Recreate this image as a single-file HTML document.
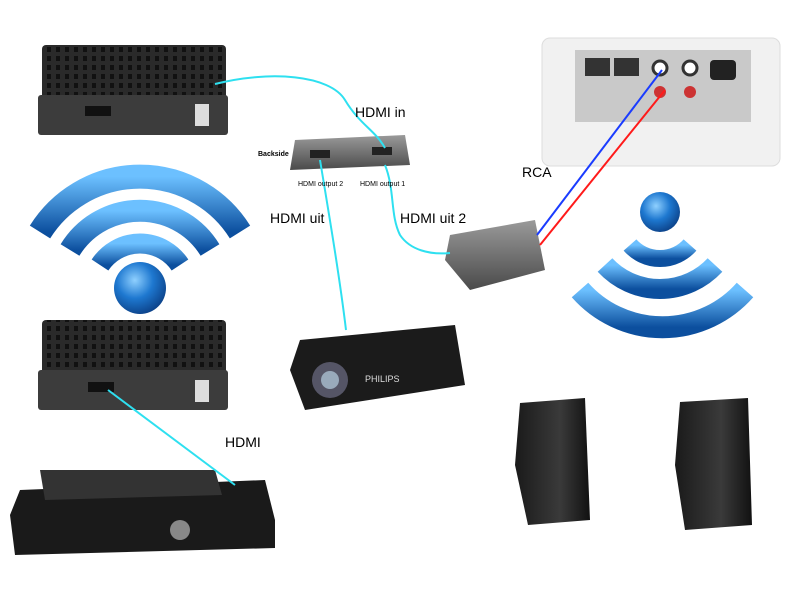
<!DOCTYPE html>
<html><head><meta charset="utf-8"><style>
html,body{margin:0;padding:0;background:#fff;width:800px;height:600px;overflow:hidden}
svg{display:block}
text{font-family:"Liberation Sans",sans-serif}
</style></head><body>
<svg width="800" height="600" viewBox="0 0 800 600" xmlns="http://www.w3.org/2000/svg">
<defs>
<pattern id="grid" width="9" height="9" patternUnits="userSpaceOnUse"><rect width="9" height="9" fill="#2a2a2a"/><rect x="2" y="2" width="4" height="5" fill="#111"/></pattern>
<radialGradient id="ball" cx="0.4" cy="0.35" r="0.7"><stop offset="0" stop-color="#8fd0ff"/><stop offset="0.5" stop-color="#1e78d0"/><stop offset="1" stop-color="#0b3f85"/></radialGradient>
<linearGradient id="arc" x1="0" y1="0" x2="0" y2="1"><stop offset="0" stop-color="#6cc0ff"/><stop offset="1" stop-color="#0c4f9e"/></linearGradient>
<linearGradient id="gray" x1="0" y1="0" x2="0" y2="1"><stop offset="0" stop-color="#9a9a9a"/><stop offset="1" stop-color="#4a4a4a"/></linearGradient>
<linearGradient id="spk" x1="0" y1="0" x2="1" y2="0"><stop offset="0" stop-color="#1a1a1a"/><stop offset="0.6" stop-color="#3a3a3a"/><stop offset="1" stop-color="#111"/></linearGradient>
</defs>

<!-- receiver 1 -->
<rect x="42" y="45" width="184" height="55" rx="4" fill="url(#grid)"/>
<rect x="38" y="95" width="190" height="40" rx="3" fill="#3c3c3c"/>
<rect x="85" y="106" width="26" height="10" fill="#111"/>
<rect x="195" y="104" width="14" height="22" fill="#ddd"/>
<!-- receiver 2 -->
<rect x="42" y="320" width="184" height="55" rx="4" fill="url(#grid)"/>
<rect x="38" y="370" width="190" height="40" rx="3" fill="#3c3c3c"/>
<rect x="88" y="382" width="26" height="10" fill="#111"/>
<rect x="195" y="380" width="14" height="22" fill="#ddd"/>

<!-- wifi left -->
<g fill="none" stroke="url(#arc)" stroke-linecap="butt">
<path d="M40 232 A118 118 0 0 1 240 232" stroke-width="24"/>
<path d="M70 250 A82 82 0 0 1 210 250" stroke-width="22"/>
<path d="M100 265 A48 48 0 0 1 180 265" stroke-width="20"/>
</g>
<circle cx="140" cy="288" r="26" fill="url(#ball)"/>

<!-- wifi right (inverted) -->
<circle cx="660" cy="212" r="20" fill="url(#ball)"/>
<g fill="none" stroke="url(#arc)">
<path d="M630 245 A40 40 0 0 0 690 245" stroke-width="17"/>
<path d="M605 265 A75 75 0 0 0 715 265" stroke-width="20"/>
<path d="M580 290 A110 110 0 0 0 745 290" stroke-width="22"/>
</g>

<!-- set top box -->
<path d="M20 490 L265 480 L275 520 L275 548 L15 555 L10 515 Z" fill="#1a1a1a"/>
<path d="M40 470 L215 470 L222 495 L45 500 Z" fill="#333"/>
<circle cx="180" cy="530" r="10" fill="#888"/>

<!-- splitter -->
<path d="M295 140 L405 135 L410 165 L290 170 Z" fill="url(#gray)"/>
<rect x="310" y="150" width="20" height="8" fill="#222"/>
<rect x="372" y="147" width="20" height="8" fill="#222"/>

<!-- converter -->
<path d="M450 235 L535 220 L545 270 L470 290 L445 260 Z" fill="url(#gray)"/>

<!-- projector -->
<path d="M300 340 L455 325 L465 385 L305 410 L290 370 Z" fill="#1b1b1b"/>
<circle cx="330" cy="380" r="18" fill="#556"/>
<circle cx="330" cy="380" r="9" fill="#9ab"/>
<text x="365" y="382" font-size="9" fill="#ddd">PHILIPS</text>

<!-- sonos -->
<rect x="542" y="38" width="238" height="128" rx="8" fill="#f1f1f1" stroke="#ddd"/>
<rect x="575" y="50" width="176" height="72" fill="#c9c9c9"/>
<rect x="585" y="58" width="25" height="18" fill="#333"/>
<rect x="614" y="58" width="25" height="18" fill="#333"/>
<circle cx="660" cy="68" r="7" fill="#fff" stroke="#333" stroke-width="3"/>
<circle cx="690" cy="68" r="7" fill="#fff" stroke="#333" stroke-width="3"/>
<circle cx="660" cy="92" r="6" fill="#c33"/>
<circle cx="690" cy="92" r="6" fill="#c33"/>
<rect x="710" y="60" width="26" height="20" rx="4" fill="#222"/>

<!-- speakers -->
<path d="M520 403 L585 398 L590 520 L528 525 L515 465 Z" fill="url(#spk)"/>
<path d="M680 402 L748 398 L752 525 L685 530 L675 465 Z" fill="url(#spk)"/>

<!-- cables -->
<g fill="none" stroke="#2ee0f0" stroke-width="2">
<path d="M215 84 C270 70 330 75 345 100 C360 125 375 130 385 148"/>
<path d="M320 160 C330 220 340 280 346 330"/>
<path d="M385 165 C395 190 390 215 400 235 C410 250 430 255 450 253"/>
<path d="M108 390 L235 485"/>
</g>
<path d="M537 235 L662 70" stroke="#1a3cff" stroke-width="2"/>
<path d="M540 245 L665 90" stroke="#ff1a1a" stroke-width="2"/>

<!-- labels -->
<text x="355" y="117" font-size="14" fill="#000">HDMI in</text>
<text x="270" y="223" font-size="14" fill="#000">HDMI uit</text>
<text x="400" y="223" font-size="14" fill="#000">HDMI uit 2</text>
<text x="522" y="177" font-size="14" fill="#000">RCA</text>
<text x="225" y="447" font-size="14" fill="#000">HDMI</text>
<text x="258" y="156" font-size="7" font-weight="bold" fill="#000">Backside</text>
<text x="298" y="186" font-size="7" fill="#000">HDMI output 2</text>
<text x="360" y="186" font-size="7" fill="#000">HDMI output 1</text>
</svg>
</body></html>
